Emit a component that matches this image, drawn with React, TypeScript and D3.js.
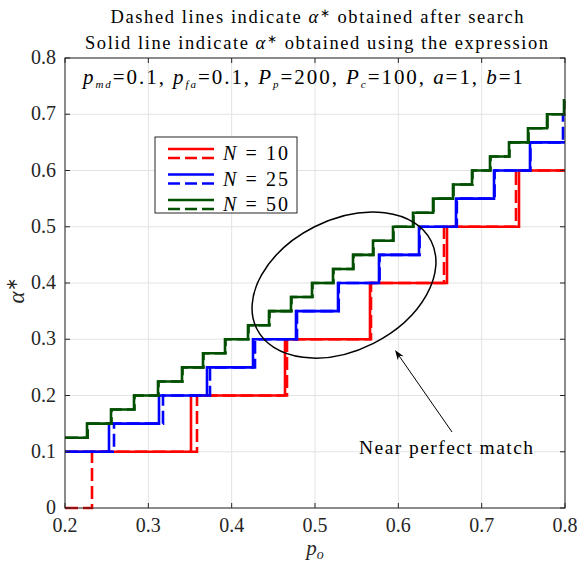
import React from "react";
import * as d3 from "d3";

// ---- data ----
const xTicks = [0.2, 0.3, 0.4, 0.5, 0.6, 0.7, 0.8];
const yTicks = [0, 0.1, 0.2, 0.3, 0.4, 0.5, 0.6, 0.7, 0.8];

const redSolidLevels = [0.1, 0.2, 0.3, 0.4, 0.5, 0.6];
const redSolidSwitch = [0.3512, 0.464, 0.566, 0.6584, 0.7448];
const redDashedLevels = [0, 0.1, 0.2, 0.3, 0.4, 0.5, 0.6];
const redDashedSwitch = [0.2324, 0.3584, 0.4664, 0.5672, 0.6548, 0.7412];

const blueSolidLevels = [0.1, 0.15, 0.2, 0.25, 0.3, 0.35, 0.4, 0.45, 0.5, 0.55, 0.6, 0.65];
const blueSolidSwitch = [0.2528, 0.3128, 0.3704, 0.4256, 0.4772, 0.5276, 0.5768, 0.6248, 0.6692, 0.7148, 0.758];
const blueDashedLevels = [0.1, 0.15, 0.2, 0.25, 0.3, 0.35, 0.4, 0.45, 0.5, 0.55, 0.6, 0.65, 0.7];
const blueDashedSwitch = [0.2588, 0.3176, 0.374, 0.428, 0.4784, 0.5285, 0.5775, 0.6255, 0.6702, 0.7155, 0.7585, 0.7976];

const greenSolidLevels = [0.125, 0.15, 0.175, 0.2, 0.225, 0.25, 0.275, 0.3, 0.325, 0.35, 0.375, 0.4, 0.425, 0.45, 0.475, 0.5, 0.525, 0.55, 0.575, 0.6, 0.625, 0.65, 0.675, 0.7, 0.725];
const greenSolidSwitch = [0.2264, 0.2552, 0.2828, 0.3116, 0.3404, 0.3656, 0.392, 0.4196, 0.4448, 0.4712, 0.4964, 0.5216, 0.5456, 0.5696, 0.5936, 0.6176, 0.6416, 0.6656, 0.6884, 0.71, 0.7328, 0.7556, 0.7784, 0.7988];
const greenDashedLevels = [0.125, 0.15, 0.175, 0.2, 0.225, 0.25, 0.275, 0.3, 0.325, 0.35, 0.375, 0.4, 0.425, 0.45, 0.475, 0.5, 0.525, 0.55, 0.575, 0.6, 0.625, 0.65, 0.675, 0.7, 0.725];
const greenDashedSwitch = [0.2272, 0.2558, 0.2834, 0.3122, 0.341, 0.3662, 0.3926, 0.4202, 0.4454, 0.4718, 0.497, 0.5222, 0.5462, 0.5702, 0.5942, 0.6182, 0.6422, 0.6662, 0.689, 0.7106, 0.7334, 0.7562, 0.779, 0.7992];

const seriesNames = ["N = 10", "N = 25", "N = 50"];
const seriesColors = ["#ff0000", "#0000ff", "#005000"];

// annotation (data coords)
const ellipseCenter = [0.5348, 0.3964];
const arrowFrom = [0.6644, 0.1351];
const arrowTo = [0.596, 0.2809];
const noteAt = [0.6572, 0.096];

const W = 577, H = 563;
const L = 65, R = 565, T = 58, B = 508;
const FONT = "'Liberation Serif', 'Times New Roman', serif";

export default function App() {
  const x = d3.scaleLinear().domain([0.2, 0.8]).range([L, R]);
  const y = d3.scaleLinear().domain([0, 0.8]).range([B, T]);
  const line = d3
    .line<[number, number]>()
    .x((d) => x(d[0]))
    .y((d) => y(d[1]))
    .curve(d3.curveStepAfter);

  const stairs = (levels: number[], sw: number[]) => {
    const pts: [number, number][] = [[0.2, levels[0]]];
    sw.forEach((s, i) => pts.push([s, levels[i + 1]]));
    pts.push([0.8, levels[levels.length - 1]]);
    return line(pts) as string;
  };

  const series = [
    { solid: stairs(redSolidLevels, redSolidSwitch), dashed: stairs(redDashedLevels, redDashedSwitch), color: seriesColors[0] },
    { solid: stairs(blueSolidLevels, blueSolidSwitch), dashed: stairs(blueDashedLevels, blueDashedSwitch), color: seriesColors[1] },
    { solid: stairs(greenSolidLevels, greenSolidSwitch), dashed: stairs(greenDashedLevels, greenDashedSwitch), color: seriesColors[2] },
  ];

  const axisColor = "#262626";
  const gridColor = "#e3e3e3";
  const tickLen = 5;

  const ex = x(ellipseCenter[0]);
  const ey = y(ellipseCenter[1]);
  const ax0 = x(arrowFrom[0]), ay0 = y(arrowFrom[1]);
  const ax1 = x(arrowTo[0]), ay1 = y(arrowTo[1]);
  const ang = Math.atan2(ay1 - ay0, ax1 - ax0);
  const hl = 10, hw = 3.5;
  const bx = ax1 - hl * Math.cos(ang), by = ay1 - hl * Math.sin(ang);
  const nx = ax1 - hl * 0.7 * Math.cos(ang), ny = ay1 - hl * 0.7 * Math.sin(ang);
  const px = -Math.sin(ang), py = Math.cos(ang);
  const head = `M${ax1},${ay1} L${bx + px * hw},${by + py * hw} L${nx},${ny} L${bx - px * hw},${by - py * hw} Z`;

  const legX = 155, legY = 137, legW = 142, legH = 76;

  return (
    <svg width={W} height={H} style={{ position: "absolute", left: 0, top: 0, background: "#fff" }} fontFamily={FONT}>
      <rect x={0} y={0} width={W} height={H} fill="#fff" />
      {/* grid */}
      {xTicks.map((t) => (
        <line key={"gx" + t} x1={x(t)} x2={x(t)} y1={T} y2={B} stroke={gridColor} strokeWidth={1} />
      ))}
      {yTicks.map((t) => (
        <line key={"gy" + t} x1={L} x2={R} y1={y(t)} y2={y(t)} stroke={gridColor} strokeWidth={1} />
      ))}

      {/* data */}
      <g fill="none" strokeWidth={2.6} strokeLinejoin="miter">
        {series.map((s, i) => (
          <g key={i}>
            <path d={s.solid} stroke={s.color} />
            <path d={s.dashed} stroke={s.color} strokeDasharray="13,5" />
          </g>
        ))}
      </g>

      {/* axes box and ticks */}
      <rect x={L} y={T} width={R - L} height={B - T} fill="none" stroke={axisColor} strokeWidth={1} />
      {xTicks.map((t) => (
        <g key={"tx" + t}>
          <line x1={x(t)} x2={x(t)} y1={B} y2={B - tickLen} stroke={axisColor} />
          <line x1={x(t)} x2={x(t)} y1={T} y2={T + tickLen} stroke={axisColor} />
          <text x={x(t)} y={B + 24} textAnchor="middle" fontSize={20} fill={axisColor}>
            {t === 0 ? "0" : t.toFixed(1)}
          </text>
        </g>
      ))}
      {yTicks.map((t) => (
        <g key={"ty" + t}>
          <line x1={L} x2={L + tickLen} y1={y(t)} y2={y(t)} stroke={axisColor} />
          <line x1={R} x2={R - tickLen} y1={y(t)} y2={y(t)} stroke={axisColor} />
          <text x={L - 9} y={y(t) + 6} textAnchor="end" fontSize={20} fill={axisColor}>
            {t === 0 ? "0" : t.toFixed(1)}
          </text>
        </g>
      ))}

      {/* axis labels */}
      <text x={x(0.5)} y={555} textAnchor="middle" fontSize={21} fill={axisColor}>
        <tspan fontStyle="italic">p</tspan>
        <tspan fontSize={14} fontStyle="italic" dy={4}>o</tspan>
      </text>
      <text transform={`translate(24,${y(0.4) + 8}) rotate(-90)`} textAnchor="middle" fontSize={23} fill={axisColor}>
        <tspan fontStyle="italic">α</tspan>
        <tspan fontSize={16} dy={-7}>∗</tspan>
      </text>

      {/* title */}
      <text x={317} y={23} textAnchor="middle" fontSize={18.5} fill="#000" textLength={413} lengthAdjust="spacing">
        Dashed lines indicate <tspan fontStyle="italic">α</tspan>
        <tspan fontSize={12} dy={-6}>∗</tspan>
        <tspan dy={6}> obtained after search</tspan>
      </text>
      <text x={316.5} y={49} textAnchor="middle" fontSize={18.5} fill="#000" textLength={463} lengthAdjust="spacing">
        Solid line indicate <tspan fontStyle="italic">α</tspan>
        <tspan fontSize={12} dy={-6}>∗</tspan>
        <tspan dy={6}> obtained using the expression</tspan>
      </text>

      {/* parameter text */}
      <text x={83} y={84} fontSize={21} fill="#000" textLength={440} lengthAdjust="spacing">
        <tspan fontStyle="italic">p</tspan>
        <tspan fontSize={11} fontStyle="italic" dy={4}>md</tspan>
        <tspan dy={-4}>=0.1, </tspan>
        <tspan fontStyle="italic">p</tspan>
        <tspan fontSize={11} fontStyle="italic" dy={4}>fa</tspan>
        <tspan dy={-4}>=0.1, </tspan>
        <tspan fontStyle="italic">P</tspan>
        <tspan fontSize={11} fontStyle="italic" dy={4}>p</tspan>
        <tspan dy={-4}>=200, </tspan>
        <tspan fontStyle="italic">P</tspan>
        <tspan fontSize={11} fontStyle="italic" dy={4}>c</tspan>
        <tspan dy={-4}>=100, </tspan>
        <tspan fontStyle="italic">a</tspan>
        <tspan>=1, </tspan>
        <tspan fontStyle="italic">b</tspan>
        <tspan>=1</tspan>
      </text>

      {/* legend */}
      <rect x={legX} y={legY} width={legW} height={legH} fill="#fff" stroke={axisColor} strokeWidth={1} />
      {seriesNames.map((n, i) => {
        const cy = legY + 16 + i * 25.5;
        return (
          <g key={n}>
            <line x1={168} x2={214} y1={cy - 4} y2={cy - 4} stroke={seriesColors[i]} strokeWidth={2.6} />
            <line x1={168} x2={214} y1={cy + 5} y2={cy + 5} stroke={seriesColors[i]} strokeWidth={2.6} strokeDasharray="12,5" />
            <text x={223} y={cy + 7} fontSize={20} fill="#000" textLength={65} lengthAdjust="spacing">
              <tspan fontStyle="italic">N</tspan>
              <tspan> = {n.split("= ")[1]}</tspan>
            </text>
          </g>
        );
      })}

      {/* ellipse annotation */}
      <ellipse cx={0} cy={0} rx={97.6} ry={65.3} fill="none" stroke="#000" strokeWidth={1.5}
        transform={`translate(${ex},${ey}) rotate(-26.8)`} />
      <line x1={ax0} y1={ay0} x2={nx} y2={ny} stroke="#000" strokeWidth={1} />
      <path d={head} fill="#000" />
      <text x={x(noteAt[0])} y={y(noteAt[1])} textAnchor="middle" fontSize={19.5} fill="#000" textLength={174} lengthAdjust="spacing">
        Near perfect match
      </text>
    </svg>
  );
}
